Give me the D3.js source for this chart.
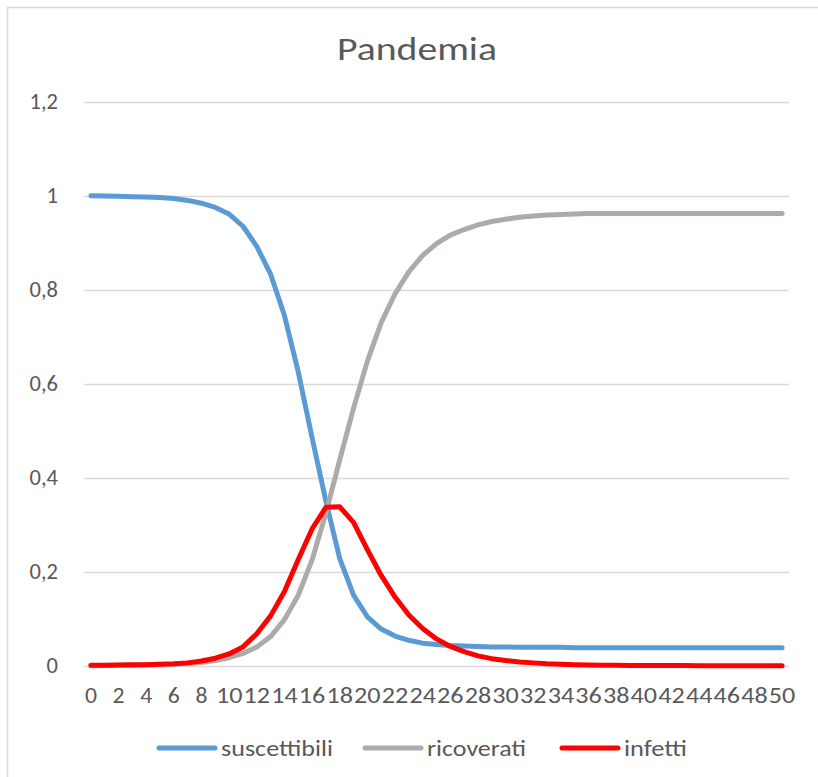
<!DOCTYPE html>
<html>
<head>
<meta charset="utf-8">
<script src="https://cdn.jsdelivr.net/npm/d3@7"></script>
<style>
  body { margin: 0; background: #fff; }
  text { font-family: Carlito, "Open Sans", sans-serif; fill: #595959; }
</style>
</head>
<body>
<svg id="chart"></svg>
<script>
var days = d3.range(0, 51);

var suscettibili = [1.000, 0.9995, 0.999, 0.998, 0.997, 0.996, 0.994, 0.990, 0.984, 0.975,
	0.961, 0.935, 0.892, 0.833, 0.745, 0.625, 0.485, 0.350, 0.228, 0.150,
	0.104, 0.078, 0.063, 0.054, 0.048, 0.045, 0.043, 0.042, 0.041, 0.040,
	0.040, 0.039, 0.039, 0.039, 0.039, 0.038, 0.038, 0.038, 0.038, 0.038,
	0.038, 0.038, 0.038, 0.038, 0.038, 0.038, 0.038, 0.038, 0.038, 0.038, 0.038];

var ricoverati = [0.000, 0.0005, 0.001, 0.001, 0.002, 0.002, 0.003, 0.005, 0.007, 0.011,
	0.017, 0.026, 0.040, 0.062, 0.098, 0.150, 0.225, 0.325, 0.438, 0.548,
	0.648, 0.730, 0.791, 0.838, 0.873, 0.898, 0.916, 0.928, 0.938, 0.945,
	0.950, 0.954, 0.957, 0.959, 0.960, 0.961, 0.962, 0.962, 0.962, 0.962,
	0.962, 0.962, 0.962, 0.962, 0.962, 0.962, 0.962, 0.962, 0.962, 0.962, 0.962];

var infetti = [0.001, 0.001, 0.0015, 0.002, 0.002, 0.003, 0.004, 0.006, 0.010, 0.016,
	0.025, 0.040, 0.068, 0.106, 0.158, 0.226, 0.291, 0.337, 0.338, 0.305,
	0.247, 0.192, 0.146, 0.108, 0.079, 0.057, 0.041, 0.030, 0.021, 0.015,
	0.011, 0.008, 0.006, 0.004, 0.003, 0.002, 0.0015, 0.001, 0.001, 0.0005,
	0.0005, 0.0003, 0.0002, 0.0002, 0.0001, 0.0001, 0.0001, 0, 0, 0, 0];

var yTicks = [0, 0.2, 0.4, 0.6, 0.8, 1, 1.2];
var seriesNames = ["suscettibili", "ricoverati", "infetti"];
var seriesColors = ["#5B9BD5", "#AEAAAA", "#FF0000"];
var series = [suscettibili, ricoverati, infetti];

var W = 818, H = 777;
var svg = d3.select("#chart")
	.attr("width", W)
	.attr("height", H);

// chart frame (bottom/right cut off like the screenshot)
svg.append("rect")
	.attr("x", 7.5).attr("y", 7.5)
	.attr("width", 830).attr("height", 800)
	.attr("fill", "none")
	.attr("stroke", "#D9D9D9")
	.attr("stroke-width", 1.5);

var x = d3.scalePoint()
	.domain(days)
	.range([84, 789])
	.padding(0.5);
var y = d3.scaleLinear()
	.domain([0, 1.2])
	.range([665.7, 101.7]);

var fmt = function (d) { return d3.format("~g")(d).replace(".", ","); };

// grid
svg.append("g")
	.selectAll("line")
	.data(yTicks)
	.join("line")
	.attr("x1", 84).attr("x2", 789)
	.attr("y1", function (d) { return Math.round(y(d)) + 0.5; })
	.attr("y2", function (d) { return Math.round(y(d)) + 0.5; })
	.attr("stroke", "#D9D9D9")
	.attr("stroke-width", 1.3);

// y labels
svg.append("g")
	.selectAll("text")
	.data(yTicks)
	.join("text")
	.attr("x", 58)
	.attr("y", function (d) { return y(d) + 7.5; })
	.attr("text-anchor", "end")
	.style("font-size", "22.5px")
	.text(fmt);

// x labels every 2
svg.append("g")
	.selectAll("text")
	.data(days.filter(function (d) { return d % 2 === 0; }))
	.join("text")
	.attr("x", function (d) { return x(d); })
	.attr("y", 703)
	.attr("text-anchor", "middle")
	.style("font-size", "22.5px")
	.attr("textLength", function (d) { return d < 10 ? 12 : 26.5; })
	.attr("lengthAdjust", "spacingAndGlyphs")
	.text(function (d) { return d; });

// lines
var line = d3.line()
	.x(function (d, i) { return x(days[i]); })
	.y(function (d) { return y(d); });

svg.append("g")
	.selectAll("path")
	.data(series)
	.join("path")
	.attr("d", line)
	.attr("fill", "none")
	.attr("stroke", function (d, i) { return seriesColors[i]; })
	.attr("stroke-width", 5)
	.attr("stroke-linejoin", "round")
	.attr("stroke-linecap", "round");

// title
svg.append("text")
	.attr("x", 417)
	.attr("y", 60)
	.attr("text-anchor", "middle")
	.style("font-size", "32.5px")
	.attr("textLength", 160)
	.attr("lengthAdjust", "spacingAndGlyphs")
	.text("Pandemia");

// legend
var legendX = [157, 363, 560];
var legendW = [112, 99, 63];
var leg = svg.append("g")
	.selectAll("g")
	.data(seriesNames)
	.join("g")
	.attr("transform", function (d, i) { return "translate(" + legendX[i] + ",748)"; });
leg.append("line")
	.attr("x1", 2).attr("x2", 58)
	.attr("stroke", function (d, i) { return seriesColors[i]; })
	.attr("stroke-width", 5)
	.attr("stroke-linecap", "round");
leg.append("text")
	.attr("x", 64)
	.attr("y", 8)
	.style("font-size", "22.5px")
	.attr("textLength", function (d, i) { return legendW[i]; })
	.attr("lengthAdjust", "spacingAndGlyphs")
	.text(function (d) { return d; });
</script>
</body>
</html>
